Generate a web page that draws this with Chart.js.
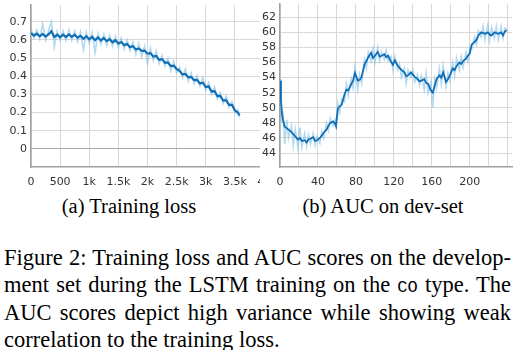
<!DOCTYPE html>
<html><head><meta charset="utf-8">
<script src="https://cdn.jsdelivr.net/npm/chart.js@4.4.1/dist/chart.umd.min.js"></script>
<style>
html,body{margin:0;padding:0;background:#fff;width:520px;height:350px;overflow:hidden}
.box{position:absolute;overflow:hidden}
.serif{font-family:"Liberation Serif","Times New Roman",Times,"Nimbus Roman","Tinos","DejaVu Serif","Noto Serif",serif}
.sub{position:absolute;font-size:20.5px;line-height:24px;color:#000;white-space:nowrap;transform:translateX(-50%)}
.cap{position:absolute;left:4px;top:243.6px;width:507px;font-size:22.5px;line-height:27.5px;color:#000}
.cap div{height:27.5px;white-space:nowrap}
.j{text-align:justify;text-align-last:justify}
.tt{font-family:"Liberation Mono","DejaVu Sans Mono",monospace;font-size:17px}
</style></head>
<body>
<div class="box" style="left:0;top:0;width:260px;height:192px"><canvas id="c1" width="275" height="192"></canvas></div>
<div class="box" style="left:260px;top:0;width:260px;height:192px"><canvas id="c2" width="260" height="192"></canvas></div>
<div class="sub serif" style="left:129px;top:194px">(a) Training loss</div>
<div class="sub serif" style="left:383px;top:194px">(b) AUC on dev-set</div>
<div class="cap serif">
<div class="j">Figure 2: Training loss and AUC scores on the develop-</div>
<div class="j">ment set during the LSTM training on the <span class="tt">CO</span> type. The</div>
<div class="j">AUC scores depict high variance while showing weak</div>
<div>correlation to the training loss.</div>
</div>
<script>
const lossSteps = [0,50,100,150,200,250,300,350,400,450,500,550,600,650,700,750,800,850,900,950,1000,1050,1100,1150,1200,1250,1300,1350,1400,1450,1500,1550,1600,1650,1700,1750,1800,1850,1900,1950,2000,2050,2100,2150,2200,2250,2300,2350,2400,2450,2500,2550,2600,2650,2700,2750,2800,2850,2900,2950,3000,3050,3100,3150,3200,3250,3300,3350,3400,3450,3500,3550,3580];
const lossSmooth = [.638,.624,.634,.620,.633,.618,.630,.648,.616,.628,.614,.628,.616,.630,.617,.628,.612,.622,.606,.620,.603,.617,.598,.614,.597,.610,.593,.604,.587,.598,.580,.588,.571,.577,.560,.565,.547,.553,.539,.541,.524,.527,.508,.511,.490,.494,.474,.476,.456,.458,.440,.430,.410,.412,.394,.396,.378,.380,.360,.364,.340,.344,.316,.318,.290,.292,.266,.268,.242,.242,.212,.200,.184];
const lossRaw = [.660,.612,.655,.605,.688,.600,.650,.700,.560,.648,.598,.650,.596,.655,.598,.650,.590,.645,.545,.640,.580,.640,.530,.635,.575,.632,.568,.625,.565,.620,.558,.610,.548,.600,.540,.590,.520,.580,.505,.565,.470,.555,.486,.540,.468,.515,.456,.500,.428,.482,.420,.450,.392,.440,.372,.418,.358,.402,.345,.392,.322,.365,.300,.342,.275,.310,.250,.290,.228,.260,.198,.215,.172];
const lossXTicks = [0,500,1000,1500,2000,2500,3000,3500,4000];
const lossXLabels = ['0','500','1k','1.5k','2k','2.5k','3k','3.5k','4k'];
const lossYTicks = [0,0.1,0.2,0.3,0.4,0.5,0.6,0.7];
const lossYLabels = ['0','0.1','0.2','0.3','0.4','0.5','0.6','0.7'];

const aucSteps = [0,1,2,3,5,7,9,12,14,16,19,21,23,26,28,30,32,35,37,39,42,44,46,49,51,53,56,58,59,61,63,65,68,70,72,75,77,79,82,84,86,89,91,93,96,98,100,103,105,107,110,112,114,117,119,121,124,126,128,131,133,135,138,140,142,145,147,149,152,154,156,159,161,163,165,168,170,172,175,177,179,182,184,186,189,191,193,196,198,200,202,205,207,209,212,214,216,219,221,223,226,228,230,233,235,237,239];
const aucSmooth = [53.6,51.0,49.3,48.5,47.5,47.3,47.1,46.8,46.5,46.2,45.8,46.0,45.6,45.7,45.4,45.8,45.9,46.1,45.6,45.7,46.0,46.3,46.7,47.1,47.6,48.0,48.2,47.9,47.6,49.9,50.2,50.4,51.8,52.4,52.3,53.1,53.6,54.6,53.6,53.7,54.1,55.7,56.2,56.7,57.3,56.6,56.9,57.4,56.8,56.9,57.1,56.7,56.9,56.1,55.7,56.3,55.6,55.3,55.0,54.7,54.2,54.3,54.7,54.4,54.1,53.8,53.5,53.6,53.8,53.3,53.2,52.3,52.0,52.9,53.8,54.3,54.0,54.7,53.4,53.8,54.3,55.2,55.0,55.5,56.0,55.8,56.2,56.5,56.9,57.2,58.4,58.7,59.0,59.6,60.0,59.9,59.8,60.0,59.7,59.6,60.0,59.9,59.8,60.0,59.6,60.1,60.3];
const aucRaw = [53.8,52.0,48.0,49.6,45.2,48.4,46.0,47.6,45.0,47.2,44.6,47.4,44.8,46.6,44.9,46.4,45.2,46.6,45.0,46.2,45.3,46.9,46.0,48.0,47.0,48.6,47.6,48.4,47.2,50.6,49.4,51.2,50.8,53.2,51.6,53.8,52.6,55.4,52.4,54.4,53.2,56.4,55.2,57.4,56.2,57.8,56.0,58.0,56.2,57.4,56.4,57.6,56.2,56.8,55.0,56.8,55.0,55.8,54.0,55.2,53.2,55.0,54.0,55.0,53.4,54.4,53.0,54.2,52.4,54.6,52.0,53.4,50.0,53.8,52.6,55.2,53.2,55.6,52.8,54.6,53.6,56.0,54.2,56.6,55.0,56.8,55.4,57.4,56.2,58.0,57.8,59.4,58.4,60.2,59.4,60.8,59.0,61.0,59.0,60.6,59.2,60.8,59.0,60.8,59.2,60.6,60.4];
const aucXTicks = [0,20,40,60,80,100,120,140,160,180,200,220,240];
const aucXLabels = ['0','','40','','80','','120','','160','','200','',''];
const aucYTicks = [44,46,48,50,52,54,56,58,60,62];
const aucYLabels = ['44','46','48','50','52','54','56','58','60','62'];

const DARK = '#0f6fb6', LIGHT = 'rgba(120,185,230,0.55)';
const pts = (xs, ys) => xs.map((x, i) => ({x: x, y: ys[i]}));

function axis(ticks, labels, min, max, size, isX, strongZero) {
  return {
    type: 'linear', min: min, max: max,
    border: {display: true, color: '#a0a0a0', width: 1.5},
    grid: {drawTicks: false, lineWidth: 1,
      color: c => (strongZero && c.tick && c.tick.value === 0) ? '#a8a8a8' : '#d8d8d8'},
    ticks: {padding: isX ? 9 : 4, color: '#333', autoSkip: false, maxRotation: 0,
      font: {family: 'DejaVu Sans', size: 11},
      callback: v => { const i = ticks.indexOf(v); return i < 0 ? '' : labels[i]; }},
    afterBuildTicks: s => { s.ticks = ticks.map(v => ({value: v})); },
    afterFit: s => {
      if (isX) s.height = size; else s.width = size;
      s.paddingLeft = 0; s.paddingRight = 0; s.paddingTop = 0; s.paddingBottom = 0;
    }
  };
}

function make(id, xs, smooth, raw, xAx, yAx, pad, lw) {
  new Chart(document.getElementById(id), {
    type: 'line',
    data: {datasets: [
      {data: pts(xs, smooth), borderColor: DARK, borderWidth: lw, pointRadius: 0, tension: 0, order: 0},
      {data: pts(xs, raw), borderColor: LIGHT, borderWidth: 1.6, pointRadius: 0, tension: 0, order: 1}
    ]},
    options: {
      responsive: false, animation: false, devicePixelRatio: 1,
      layout: {padding: pad},
      plugins: {legend: {display: false}, tooltip: {enabled: false}},
      scales: {x: xAx, y: yAx}
    }
  });
}

make('c1', lossSteps, lossSmooth, lossRaw,
  axis(lossXTicks, lossXLabels, 0, 4000, 25, true, false),
  axis(lossYTicks, lossYLabels, -0.1, 0.792, 31, false, true),
  {left: 0, top: 5, right: 11, bottom: 0}, 2.2);
make('c2', aucSteps, aucSmooth, aucRaw,
  axis(aucXTicks, aucXLabels, 0, 244.5, 25, true, false),
  axis(aucYTicks, aucYLabels, 42.15, 63.76, 20, false, false),
  {left: 0, top: 4, right: 8, bottom: 0}, 1.8);
</script>
</body></html>
